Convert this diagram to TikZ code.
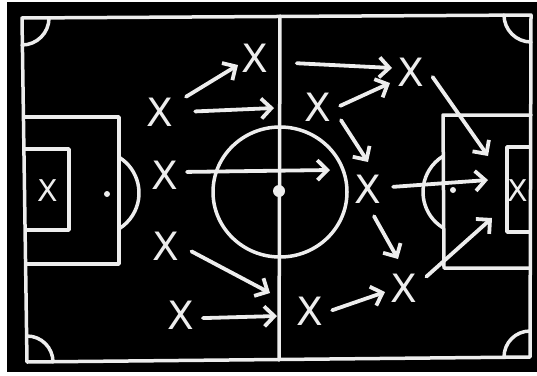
\documentclass[tikz,border=0pt]{standalone}
\usepackage{fontspec}
\usepackage{tikz}
\usetikzlibrary{arrows.meta,positioning}
\newfontfamily\chalkfont{DejaVu Sans}
\definecolor{chalk}{HTML}{EDEDED}
\definecolor{board}{HTML}{000000}
\definecolor{paper}{HTML}{FFFFFF}
\tikzset{
  pitchline/.style={
    draw=chalk, line width=3.5pt, line cap=round, line join=round
  },
  player/.style={
    circle, inner sep=0pt, minimum size=44pt, text=chalk,
    font=\chalkfont\fontsize{39}{39}\selectfont
  },
  keeper/.style={
    player, minimum size=30pt,
    font=\chalkfont\fontsize{30}{30}\selectfont
  },
  runarrow/.style={
    draw=chalk, line width=3.8pt, line cap=round,
    -{Straight Barb[length=10pt, width=20pt]}
  },
  chalkspot/.style={
    circle, fill=chalk, inner sep=0pt, minimum size=#1
  },
  chalkspot/.default=6pt,
}

\begin{document}
\begin{tikzpicture}[x=1pt, y=-1pt]

  % Board
  \useasboundingbox (0,0) rectangle (537,375);
  \fill[paper] (0,0) rectangle (537,375);
  \fill[board] (7,2) rectangle (537,372);

  % Pitch outline, halfway line, corners
  \draw[pitchline] (22,18) -- (531,15) -- (530,357) -- (27,362) -- cycle;
  \draw[pitchline] (280,16) -- (279,360);
  \draw[pitchline] (22,45) arc[start angle=90, end angle=0, radius=27];
  \draw[pitchline] (504,15) arc[start angle=180, end angle=90, radius=27];
  \draw[pitchline] (530,331) arc[start angle=270, end angle=180, radius=26];
  \draw[pitchline] (27,336) arc[start angle=270, end angle=360, radius=26];

  % Centre circle and spot
  \draw[pitchline] (280,192) ellipse[x radius=67, y radius=65];
  \node[chalkspot=12pt] (kickoff) at (279,191) {};

  % Left penalty area
  \draw[pitchline] (24,117) -- (119,117) -- (119,264) -- (26,264);
  \draw[pitchline] (24,149) -- (69,149) -- (69,230) -- (26,230);
  \draw[pitchline] (97,193) ++(-58:42) arc[start angle=-58, end angle=58, radius=42];
  \node[chalkspot] (spotL) at (107,194) {};

  % Right penalty area
  \draw[pitchline] (531,115) -- (443,115) -- (444,268) -- (530,268);
  \draw[pitchline] (530,147) -- (507,147) -- (507,232) -- (530,232);
  \draw[pitchline] (465,192) ++(122:42) arc[start angle=122, end angle=238, radius=42];
  \node[chalkspot] (spotR) at (453,190) {};

  % Players
  \node[keeper] (gkL) at (48,191) {X};
  \node[keeper] (gkR) at (518,191) {X};
  \node[player] (p1) at (160,112) {X};
  \node[player] (p2) at (255,58) {X};
  \node[player] (p3) at (165,175) {X};
  \node[player] (p4) at (166,246) {X};
  \node[player] (p5) at (181,315) {X};
  \node[player] (p6) at (411,72) {X};
  \node[player] (p7) at (318,107) {X};
  \node[player] (p8) at (368,189) {X};
  \node[player] (p9) at (310,311) {X};
  \node[player] (p10) at (404,288) {X};

  % Where the runs end
  \coordinate (t1) at (238,65);
  \coordinate (t2) at (274,108);
  \coordinate (t3) at (330,170);
  \coordinate (t4) at (270,293);
  \coordinate (t5) at (277,316);
  \coordinate (t6) at (392,68);
  \coordinate (t7) at (390,83);
  \coordinate (t8) at (488,156);
  \coordinate (t9) at (368,162);
  \coordinate (t10) at (488,180);
  \coordinate (t11) at (398,259);
  \coordinate (t12) at (385,292);
  \coordinate (t13) at (492,218);

  % Runs in the own half
  \draw[runarrow, shorten <=8pt] (p1.30) -- (t1);
  \draw[runarrow, shorten <=13pt] (p1.0) -- (t2);
  \draw[runarrow] (p3.8) -- (t3);
  \draw[runarrow, shorten <=4pt] (p4.-9) -- (t4);
  \draw[runarrow] (p5.-8) -- (t5);
  \draw[runarrow, shorten <=20pt] (p2.-11) -- (t6);

  % Runs in the other half
  \draw[runarrow] (p7.3) -- (t7);
  \draw[runarrow, shorten <=5pt] (p7.-24) -- (t9);
  \draw[runarrow] (p6.-13) -- (t8);
  \draw[runarrow, shorten <=3pt] (p8.5) -- (t10);
  \draw[runarrow, shorten <=6pt] (p8.-82) -- (t11);
  \draw[runarrow] (p9.2) -- (t12);
  \draw[runarrow, shorten <=3pt] (p10.25) -- (t13);

\end{tikzpicture}
\end{document}
